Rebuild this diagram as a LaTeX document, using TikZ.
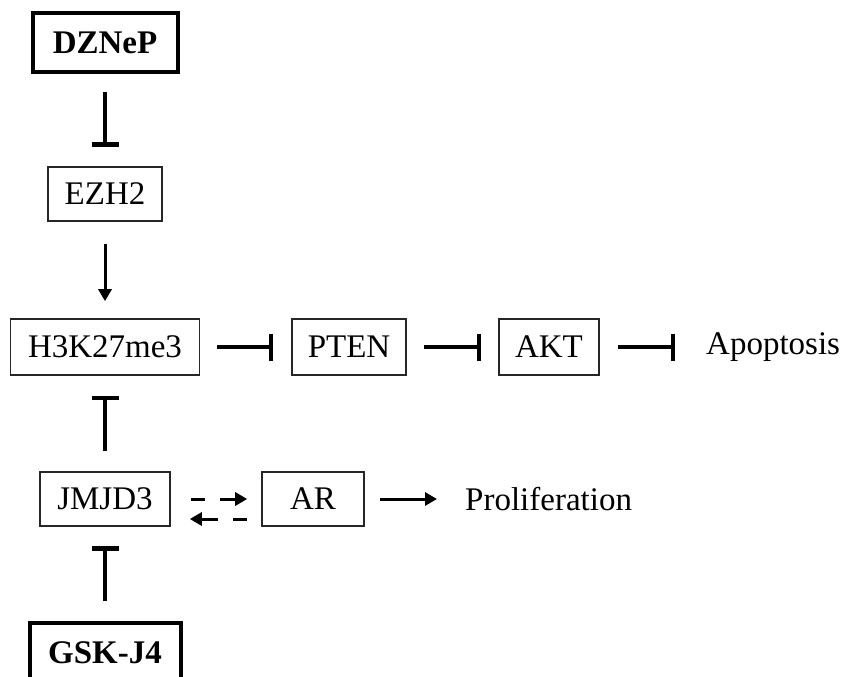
\documentclass[tikz,border=0pt]{standalone}
\usepackage{fontspec}
\setmainfont{Liberation Serif}
\usepackage{tikz}
\usetikzlibrary{arrows.meta}

\begin{document}
\begin{tikzpicture}[x=1pt,y=-1pt,
    box/.style={draw=black!85,line width=1.6pt,inner sep=0pt,font=\fontsize{33}{40}\selectfont},
    drugbox/.style={draw=black,line width=4pt,inner sep=0pt,font=\fontsize{33}{40}\selectfont\bfseries},
    label/.style={inner sep=0pt,anchor=west,font=\fontsize{33}{40}\selectfont},
    act/.style={line width=3pt,-{Triangle[width=13pt,length=12pt]}},
    inh/.style={line width=3.5pt,-{Bar[width=27pt,line width=4.5pt]}},
    druginh/.style={line width=4.5pt,-{Bar[width=27pt,line width=5.5pt]}},
    actdash/.style={act,dash pattern=on 14pt off 15pt on 60pt}]
    \useasboundingbox (0,0) rectangle (844,677);

    \node[drugbox,minimum width=145pt,minimum height=59pt] (dznep) at (105,42.5) {DZNeP};
    \node[box,minimum width=114pt,minimum height=54pt] (ezh2) at (105,194) {EZH2};
    \node[box,minimum width=189pt,minimum height=56pt] (h3k) at (105,347) {H3K27me3};
    \node[box,minimum width=114pt,minimum height=56pt] (pten) at (349,347) {PTEN};
    \node[box,minimum width=100pt,minimum height=56pt] (akt) at (549,347) {AKT};
    \node[label] (apop) at (706,347) {Apoptosis};
    \node[box,minimum width=130pt,minimum height=54pt] (jmjd3) at (105,499) {JMJD3};
    \node[box,minimum width=102pt,minimum height=54pt] (ar) at (313,499) {AR};
    \node[label] (prolif) at (465,499) {Proliferation};
    \node[drugbox,minimum width=151pt,minimum height=60pt] (gsk) at (105,653) {GSK-J4};

    \draw[druginh,shorten <=18pt,shorten >=19pt] (dznep) -- (ezh2);
    \draw[act,shorten <=22pt,shorten >=17pt] (ezh2) -- (h3k);
    \draw[inh,shorten <=17pt,shorten >=18pt] (h3k) -- (pten);
    \draw[inh,shorten <=17pt,shorten >=17pt] (pten) -- (akt);
    \draw[inh,shorten <=18pt,shorten >=31pt] (akt) -- (apop);
    \draw[inh,shorten <=20pt,shorten >=20pt] (jmjd3) -- (h3k);
    \draw[druginh,shorten <=20pt,shorten >=19pt] (gsk) -- (jmjd3);

    % JMJD3 and AR act on each other
    \draw[actdash,shorten <=20pt,shorten >=14pt] (jmjd3.east) -- (ar.west);
    \draw[actdash,shorten <=14pt,shorten >=19pt] ([yshift=-20pt]ar.west) -- ([yshift=-20pt]jmjd3.east);
    \draw[act,shorten <=15pt,shorten >=28pt] (ar) -- (prolif);
\end{tikzpicture}
\end{document}
